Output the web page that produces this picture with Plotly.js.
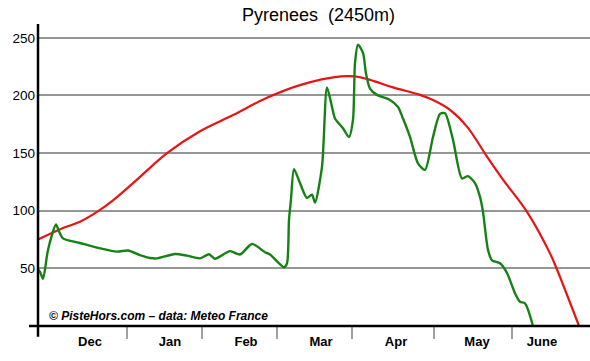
<!DOCTYPE html>
<html>
<head>
<meta charset="utf-8">
<script src="https://cdn.plot.ly/plotly-3.0.1.min.js"></script>
<style>html,body{margin:0;padding:0;background:#fff;}#chart{width:590px;height:361px;}</style>
</head>
<body>
<div id="chart"></div>
<script>
// x positions are in "season units" along the time axis (axis spans 0..552)
const monthLabels = ["Dec", "Jan", "Feb", "Mar", "Apr", "May", "June"];
const monthLabelPos = [52, 132, 208, 283, 358, 439, 504];
const monthEdges = [89, 164, 239, 314, 396, 474];

const avgX = [0, 25, 42, 59, 75, 99, 129, 162, 195, 229, 262, 303, 317, 332, 355, 382, 395, 412, 429, 449, 465, 489, 512, 519, 541];
const avgY = [75, 85, 90.5, 99, 109, 127, 150, 169, 183, 198, 209, 216.5, 216.5, 213.5, 207, 200.5, 196, 187.5, 173, 147, 127, 99, 63, 49, 0];

const seasonX = [0, 2, 5, 10, 18, 21, 25, 42, 59, 79, 90, 102, 112, 119, 137, 149, 162, 171, 177, 192, 202, 214, 227, 232, 246, 249, 251, 253, 256, 262, 269, 274, 277, 284, 289, 294, 297, 305, 311, 315, 317, 320, 325, 328, 332, 339, 352, 360, 365, 372, 380, 387, 395, 402, 407, 415, 424, 430, 437, 442, 445, 450, 454, 462, 469, 477, 482, 487, 495];
const seasonY = [49, 47, 41, 66, 88, 82, 76, 72, 68, 64.5, 65.5, 61.5, 59, 58.7, 62.5, 61, 58.7, 62.2, 58.4, 65, 62, 71.2, 64, 62, 51, 54.4, 92, 110, 136, 124, 111, 114, 107, 138, 207, 190, 180, 171.5, 164, 179, 228, 244, 237, 219, 206, 200.5, 196, 190, 180, 164, 141, 135.4, 164, 184, 184.6, 161.5, 128, 130, 124, 112, 99, 66, 57, 54.4, 46, 28.4, 21, 19.7, 0];

const yTicks = [50, 100, 150, 200, 250];

const traces = [
  {x: avgX, y: avgY, mode: 'lines', line: {color: 'rgb(232,20,20)', width: 2.2, shape: 'spline', smoothing: 1}, hoverinfo: 'skip'},
  {x: seasonX, y: seasonY, mode: 'lines', line: {color: 'rgb(22,130,22)', width: 2.4, shape: 'spline', smoothing: 0.7}, hoverinfo: 'skip'}
];

const shapes = [];
monthEdges.forEach(e => shapes.push({type: 'line', xref: 'x', yref: 'paper', x0: e, x1: e, y0: 0, y1: -0.043, line: {color: 'rgb(160,160,160)', width: 2}}));
shapes.push({type: 'line', xref: 'paper', yref: 'paper', x0: -0.0163, x1: 1, y0: 0, y1: 0, line: {color: '#000', width: 2.5}});
shapes.push({type: 'line', xref: 'paper', yref: 'paper', x0: 0, x1: 0, y0: -0.036, y1: 1, line: {color: '#000', width: 2.5}});

const layout = {
  width: 590, height: 361,
  margin: {l: 38, r: 0, t: 24, b: 35},
  paper_bgcolor: '#fff', plot_bgcolor: '#fff',
  showlegend: false,
  font: {family: 'Liberation Sans, Arial, sans-serif', color: '#000'},
  title: {text: 'Pyrenees\u00A0 (2450m)', font: {size: 18, color: '#000', family: 'Liberation Sans, Arial, sans-serif'}, x: 0.508, xref: 'paper', xanchor: 'center', y: 0.96, yref: 'container', yanchor: 'middle'},
  xaxis: {range: [0, 552], showgrid: false, zeroline: false, showline: false, ticks: '', ticklabelstandoff: 6, tickvals: monthLabelPos, ticktext: monthLabels, tickfont: {size: 13, color: '#000', family: 'Liberation Sans, Arial, sans-serif', weight: 'bold'}, fixedrange: true},
  yaxis: {range: [0, 262], tickvals: yTicks, showgrid: true, gridcolor: 'rgb(150,150,150)', gridwidth: 2, zeroline: false, showline: false, ticks: '', ticklabelstandoff: 2, tickfont: {size: 13.5, color: '#000'}, fixedrange: true},
  shapes: shapes,
  annotations: [{xref: 'paper', yref: 'paper', x: 9/552, y: 10.3/302, xanchor: 'left', yanchor: 'middle', showarrow: false, text: '<b><i>© PisteHors.com – data: Meteo France</i></b>', font: {size: 12, color: '#000'}}]
};

Plotly.newPlot('chart', traces, layout, {displayModeBar: false, staticPlot: true});
</script>
</body>
</html>
